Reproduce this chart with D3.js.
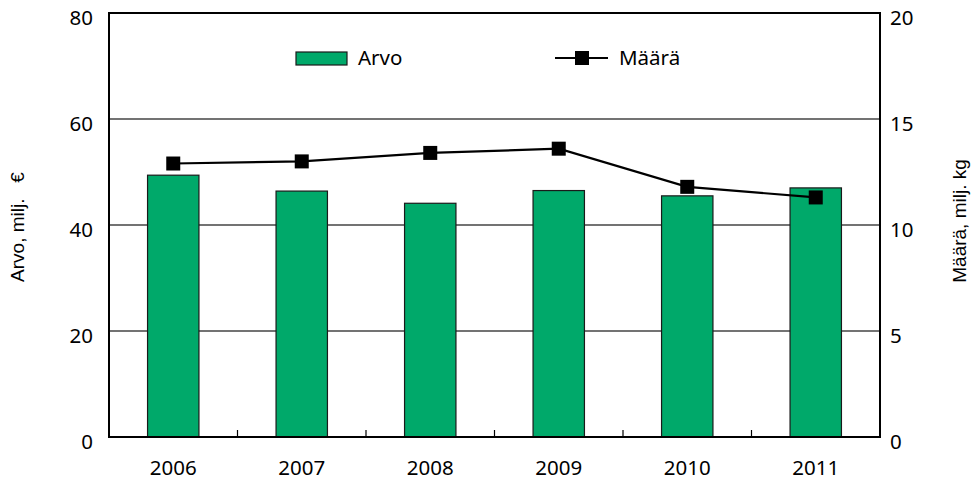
<!DOCTYPE html>
<html>
<head>
<meta charset="utf-8">
<script src="https://cdn.jsdelivr.net/npm/d3@7"></script>
<style>
  body { margin: 0; background: #fff; }
  .tick text { font-family: "Noto Sans", "Open Sans", sans-serif; font-size: 20.5px; fill: #000; }
  .title { font-family: "Liberation Sans", Arial, sans-serif; font-size: 19px; fill: #000; }
  .legend { font-family: "Noto Sans", "Open Sans", sans-serif; font-size: 20.5px; fill: #000; }
</style>
</head>
<body>
<div id="chart"></div>
<script>
// values
let years = ["2006", "2007", "2008", "2009", "2010", "2011"];
let arvo = [49.4, 46.4, 44.1, 46.5, 45.5, 47.0];   // milj. €
let maara = [12.9, 13.0, 13.4, 13.6, 11.8, 11.3];  // milj. kg
let leftTicks = [0, 20, 40, 60, 80];
let rightTicks = [0, 5, 10, 15, 20];

let margin = { top: 13, right: 99, bottom: 56, left: 109 };
let width = 979 - margin.left - margin.right;
let height = 493 - margin.top - margin.bottom;

let svg = d3.select("#chart")
    .append("svg")
    .attr("width", 979)
    .attr("height", 493)
    .append("g")
    .attr("transform", "translate(" + margin.left + "," + margin.top + ")");

let x = d3.scaleBand()
    .domain(years)
    .range([0, width])
    .paddingInner(0.6)
    .paddingOuter(0.3);
let xCat = d3.scaleBand().domain(years).range([0, width]);
let yL = d3.scaleLinear().domain([0, 80]).range([height, 0]);
let yR = d3.scaleLinear().domain([0, 20]).range([height, 0]);

// gridlines
svg.selectAll(".grid")
    .data([20, 40, 60])
    .enter()
    .append("line")
    .attr("x1", 0).attr("x2", width)
    .attr("y1", d => yL(d)).attr("y2", d => yL(d))
    .attr("stroke", "#444").attr("stroke-width", 1.4);

// bars
svg.selectAll(".bar")
    .data(years)
    .enter()
    .append("rect")
    .attr("x", (d, i) => x(d))
    .attr("y", (d, i) => yL(arvo[i]))
    .attr("width", x.bandwidth())
    .attr("height", (d, i) => height - yL(arvo[i]))
    .attr("fill", "#00a96a")
    .attr("stroke", "#1a1a1a")
    .attr("stroke-width", 1.2);

// frame
svg.append("rect")
    .attr("x", 0).attr("y", 0).attr("width", width).attr("height", height)
    .attr("fill", "none").attr("stroke", "#000").attr("stroke-width", 2);

// category separators (small ticks pointing up)
svg.selectAll(".sep")
    .data(years.slice(1))
    .enter()
    .append("line")
    .attr("x1", d => xCat(d)).attr("x2", d => xCat(d))
    .attr("y1", height).attr("y2", height - 7)
    .attr("stroke", "#000").attr("stroke-width", 1.2);

// axes (labels only)
let axL = svg.append("g")
    .call(d3.axisLeft(yL).tickValues(leftTicks).tickSize(0).tickPadding(16));
axL.select(".domain").remove();
axL.selectAll(".tick text").attr("dy", "0.55em");
let axR = svg.append("g")
    .attr("transform", "translate(" + width + ",0)")
    .call(d3.axisRight(yR).tickValues(rightTicks).tickSize(0).tickPadding(10));
axR.select(".domain").remove();
axR.selectAll(".tick text").attr("dy", "0.55em");
let axB = svg.append("g")
    .attr("transform", "translate(0," + height + ")")
    .call(d3.axisBottom(xCat).tickSize(0).tickPadding(23));
axB.select(".domain").remove();

// line + markers
let line = d3.line()
    .x((d, i) => xCat(years[i]) + xCat.bandwidth() / 2)
    .y(d => yR(d));
svg.append("path")
    .datum(maara)
    .attr("d", line)
    .attr("fill", "none")
    .attr("stroke", "#000")
    .attr("stroke-width", 2.2);
svg.selectAll(".mk")
    .data(maara)
    .enter()
    .append("rect")
    .attr("x", (d, i) => xCat(years[i]) + xCat.bandwidth() / 2 - 7)
    .attr("y", d => yR(d) - 7)
    .attr("width", 14)
    .attr("height", 14)
    .attr("fill", "#000");

// axis titles
svg.append("text")
    .attr("class", "title")
    .attr("transform", "translate(" + (-85) + "," + (height / 2 + 2) + ") rotate(-90)")
    .attr("text-anchor", "middle")
    .text("Arvo, milj.\u00a0\u00a0 €");
svg.append("text")
    .attr("class", "title")
    .attr("transform", "translate(" + (width + 86) + "," + (height / 2 - 4) + ") rotate(-90)")
    .attr("text-anchor", "middle")
    .text("Määrä, milj. kg");

// legend
let lg = svg.append("g").attr("transform", "translate(0,45)");
lg.append("rect")
    .attr("x", 187).attr("y", -6).attr("width", 51).attr("height", 13)
    .attr("fill", "#00a96a").attr("stroke", "#1a1a1a").attr("stroke-width", 1.2);
lg.append("text").attr("class", "legend")
    .attr("x", 249).attr("y", 0).attr("dy", "0.35em").text("Arvo");
lg.append("line")
    .attr("x1", 446).attr("x2", 499).attr("y1", 0).attr("y2", 0)
    .attr("stroke", "#000").attr("stroke-width", 2.2);
lg.append("rect")
    .attr("x", 466).attr("y", -7).attr("width", 14).attr("height", 14).attr("fill", "#000");
lg.append("text").attr("class", "legend")
    .attr("x", 510).attr("y", 0).attr("dy", "0.35em").text("Määrä");
</script>
</body>
</html>
